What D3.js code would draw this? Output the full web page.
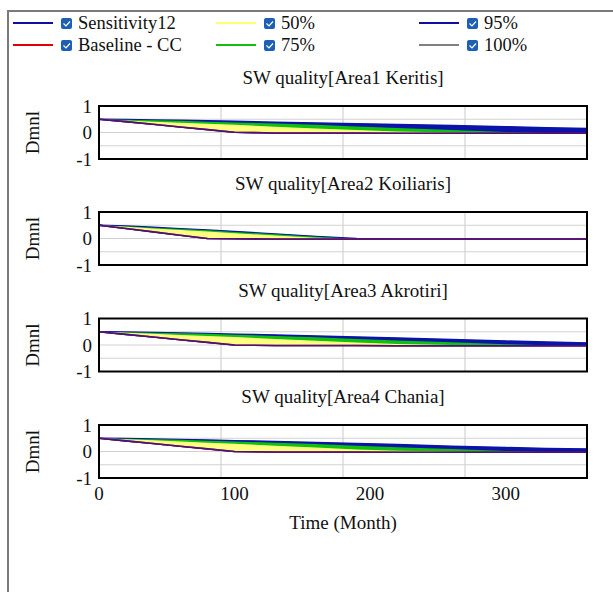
<!DOCTYPE html>
<html>
<head>
<meta charset="utf-8">
<script src="https://cdn.jsdelivr.net/npm/d3@7"></script>
<style>
  body { margin: 0; background: #fff; }
  svg { display: block; font-family: "Liberation Serif", "Times New Roman", serif; }
</style>
</head>
<body>
<svg id="chart" width="613" height="592"></svg>
<script>
// time points (Month)
const times = [0, 20, 40, 60, 80, 100, 130, 160, 190, 220, 260, 300, 330, 360];

const panelTitles = [
    'SW quality[Area1 Keritis]',
    'SW quality[Area2 Koiliaris]',
    'SW quality[Area3 Akrotiri]',
    'SW quality[Area4 Chania]'
];

// baseline / lower edge of the sensitivity envelope
const baseline1 = [0.5, 0.41, 0.31, 0.21, 0.11, 0.01, -0.02, -0.02, -0.02, -0.03, -0.03, -0.03, -0.03, -0.03];
const baseline2 = [0.5, 0.375, 0.25, 0.125, 0.0, -0.01, -0.02, -0.02, -0.02, -0.02, -0.02, -0.02, -0.02, -0.02];
const baseline3 = [0.5, 0.4, 0.3, 0.2, 0.1, 0.0, -0.02, -0.02, -0.02, -0.03, -0.03, -0.03, -0.03, -0.03];
const baseline4 = [0.5, 0.4, 0.3, 0.2, 0.1, 0.0, -0.02, -0.02, -0.02, -0.03, -0.03, -0.03, -0.03, -0.03];

// upper edge of 50% band
const p50_1 = [0.5, 0.45, 0.41, 0.37, 0.33, 0.29, 0.22, 0.15, 0.09, 0.04, 0.0, -0.03, -0.03, -0.03];
const p50_2 = [0.5, 0.44, 0.38, 0.32, 0.26, 0.2, 0.11, 0.03, -0.02, -0.02, -0.02, -0.02, -0.02, -0.02];
const p50_3 = [0.5, 0.46, 0.42, 0.38, 0.34, 0.3, 0.23, 0.16, 0.09, 0.04, 0.0, -0.03, -0.03, -0.03];
const p50_4 = [0.5, 0.46, 0.42, 0.38, 0.33, 0.29, 0.22, 0.15, 0.08, 0.03, 0.0, -0.03, -0.03, -0.03];

// upper edge of 75% band
const p75_1 = [0.5, 0.48, 0.46, 0.44, 0.41, 0.38, 0.34, 0.29, 0.23, 0.17, 0.09, 0.02, -0.02, -0.03];
const p75_2 = [0.5, 0.46, 0.41, 0.36, 0.31, 0.25, 0.16, 0.07, -0.01, -0.02, -0.02, -0.02, -0.02, -0.02];
const p75_3 = [0.5, 0.48, 0.46, 0.44, 0.42, 0.39, 0.34, 0.29, 0.23, 0.17, 0.1, 0.03, -0.01, -0.03];
const p75_4 = [0.5, 0.48, 0.46, 0.44, 0.41, 0.38, 0.33, 0.28, 0.22, 0.16, 0.09, 0.02, -0.02, -0.03];

// upper edge of 95% band
const p95_1 = [0.5, 0.49, 0.47, 0.46, 0.44, 0.42, 0.39, 0.36, 0.33, 0.3, 0.26, 0.22, 0.18, 0.15];
const p95_2 = [0.5, 0.47, 0.42, 0.37, 0.32, 0.26, 0.17, 0.08, 0.0, -0.02, -0.02, -0.02, -0.02, -0.02];
const p95_3 = [0.5, 0.49, 0.47, 0.45, 0.43, 0.41, 0.38, 0.34, 0.3, 0.26, 0.21, 0.15, 0.11, 0.08];
const p95_4 = [0.5, 0.49, 0.47, 0.45, 0.43, 0.41, 0.38, 0.34, 0.3, 0.26, 0.2, 0.15, 0.11, 0.09];

// upper edge of 100% band
const p100_1 = [0.5, 0.49, 0.48, 0.46, 0.45, 0.43, 0.4, 0.37, 0.34, 0.31, 0.27, 0.23, 0.19, 0.16];
const p100_2 = [0.5, 0.47, 0.43, 0.38, 0.33, 0.27, 0.18, 0.09, 0.0, -0.02, -0.02, -0.02, -0.02, -0.02];
const p100_3 = [0.5, 0.49, 0.48, 0.46, 0.44, 0.42, 0.39, 0.35, 0.31, 0.27, 0.22, 0.16, 0.12, 0.09];
const p100_4 = [0.5, 0.49, 0.48, 0.46, 0.44, 0.42, 0.39, 0.35, 0.31, 0.27, 0.21, 0.16, 0.12, 0.1];

const baselines = [baseline1, baseline2, baseline3, baseline4];
const bands = [
    { name: '100%', color: '#8c8c8c', data: [p100_1, p100_2, p100_3, p100_4] },
    { name: '95%', color: '#0a14a8', data: [p95_1, p95_2, p95_3, p95_4] },
    { name: '75%', color: '#10c010', data: [p75_1, p75_2, p75_3, p75_4] },
    { name: '50%', color: '#ffff80', data: [p50_1, p50_2, p50_3, p50_4] }
];

const xTicks = [0, 100, 200, 300];
const xGrid = [90, 180, 270];
const yTicks = [-1, 0, 1];
const yGrid = [-0.5, 0, 0.5];

const legendItems = [
    { label: 'Sensitivity12', color: '#1010a0', col: 0, row: 0 },
    { label: 'Baseline - CC', color: '#e00000', col: 0, row: 1 },
    { label: '50%', color: '#ffff70', col: 1, row: 0 },
    { label: '75%', color: '#10c010', col: 1, row: 1 },
    { label: '95%', color: '#1010a0', col: 2, row: 0 },
    { label: '100%', color: '#808080', col: 2, row: 1 }
];

const svg = d3.select('#chart');

// outer frame
svg.append('rect')
    .attr('x', 8).attr('y', 11)
    .attr('width', 640).attr('height', 620)
    .attr('fill', 'none')
    .attr('stroke', '#7a7a7a')
    .attr('stroke-width', 2);

// legend
const legendCols = [13, 216, 419];
const legendRows = [23, 45];
legendItems.forEach(d => {
    const lx = legendCols[d.col], ly = legendRows[d.row];
    svg.append('line')
        .attr('x1', lx).attr('x2', lx + 40)
        .attr('y1', ly).attr('y2', ly)
        .attr('stroke', d.color).attr('stroke-width', 2);
    svg.append('rect')
        .attr('x', lx + 48).attr('y', ly - 5)
        .attr('width', 11).attr('height', 11)
        .attr('rx', 2)
        .attr('fill', '#1d5fb5');
    svg.append('path')
        .attr('d', `M${lx + 50.5},${ly + 0.5} l2.5,2.5 l4,-4.5`)
        .attr('fill', 'none')
        .attr('stroke', '#fff').attr('stroke-width', 1.2);
    svg.append('text')
        .attr('x', lx + 65).attr('y', ly + 6)
        .attr('font-size', 18.5)
        .attr('fill', '#111')
        .text(d.label);
});

const x = d3.scaleLinear().domain([0, 360]).range([99, 587]);
const panelTops = [106, 212, 318.5, 425];
const panelH = 53;

panelTops.forEach((top, i) => {
    const y = d3.scaleLinear().domain([-1, 1]).range([top + panelH, top]);
    const g = svg.append('g');

    g.append('text')
        .attr('x', 343).attr('y', top - 22)
        .attr('text-anchor', 'middle')
        .attr('font-size', 19)
        .attr('fill', '#111')
        .text(panelTitles[i]);

    g.append('text')
        .attr('transform', `translate(39,${top + panelH / 2}) rotate(-90)`)
        .attr('text-anchor', 'middle')
        .attr('font-size', 19)
        .attr('fill', '#111')
        .text('Dmnl');

    // grid
    g.selectAll('.hg').data(yGrid).join('line')
        .attr('x1', x(0)).attr('x2', x(360))
        .attr('y1', d => y(d)).attr('y2', d => y(d))
        .attr('stroke', '#d2d2d2').attr('stroke-width', 1.2);
    g.selectAll('.vg').data(xGrid).join('line')
        .attr('x1', d => x(d)).attr('x2', d => x(d))
        .attr('y1', y(1)).attr('y2', y(-1))
        .attr('stroke', '#d2d2d2').attr('stroke-width', 1.2);

    // bands
    const low = baselines[i];
    bands.forEach(b => {
        const hi = b.data[i];
        const area = d3.area()
            .x((d, k) => x(times[k]))
            .y0((d, k) => y(low[k]))
            .y1((d, k) => y(hi[k]));
        g.append('path')
            .datum(times)
            .attr('d', area)
            .attr('fill', b.color)
            .attr('stroke', b.name === '95%' ? b.color : 'none')
            .attr('stroke-width', 1.5);
    });

    // baseline and sensitivity lines along the lower edge
    const line = d3.line().x((d, k) => x(times[k])).y(d => y(d));
    g.append('path').datum(low).attr('d', line)
        .attr('fill', 'none').attr('stroke', '#d00000').attr('stroke-width', 1.6);
    g.append('path').datum(low).attr('d', line)
        .attr('fill', 'none').attr('stroke', '#1a1aa8').attr('stroke-width', 1.6)
        .attr('opacity', 0.75);

    // frame
    g.append('rect')
        .attr('x', x(0)).attr('y', y(1))
        .attr('width', x(360) - x(0)).attr('height', y(-1) - y(1))
        .attr('fill', 'none').attr('stroke', '#000').attr('stroke-width', 2);

    // y tick labels
    g.selectAll('.yl').data(yTicks).join('text')
        .attr('x', 92).attr('y', d => y(d) + 6.5)
        .attr('text-anchor', 'end')
        .attr('font-size', 19)
        .attr('fill', '#111')
        .text(d => d);

    if (i === panelTops.length - 1) {
        g.selectAll('.xl').data(xTicks).join('text')
            .attr('x', d => x(d)).attr('y', y(-1) + 22)
            .attr('text-anchor', 'middle')
            .attr('font-size', 19)
            .attr('fill', '#111')
            .text(d => d);
        g.append('text')
            .attr('x', 343).attr('y', y(-1) + 51)
            .attr('text-anchor', 'middle')
            .attr('font-size', 19)
            .attr('fill', '#111')
            .text('Time (Month)');
    }
});
</script>
</body>
</html>
